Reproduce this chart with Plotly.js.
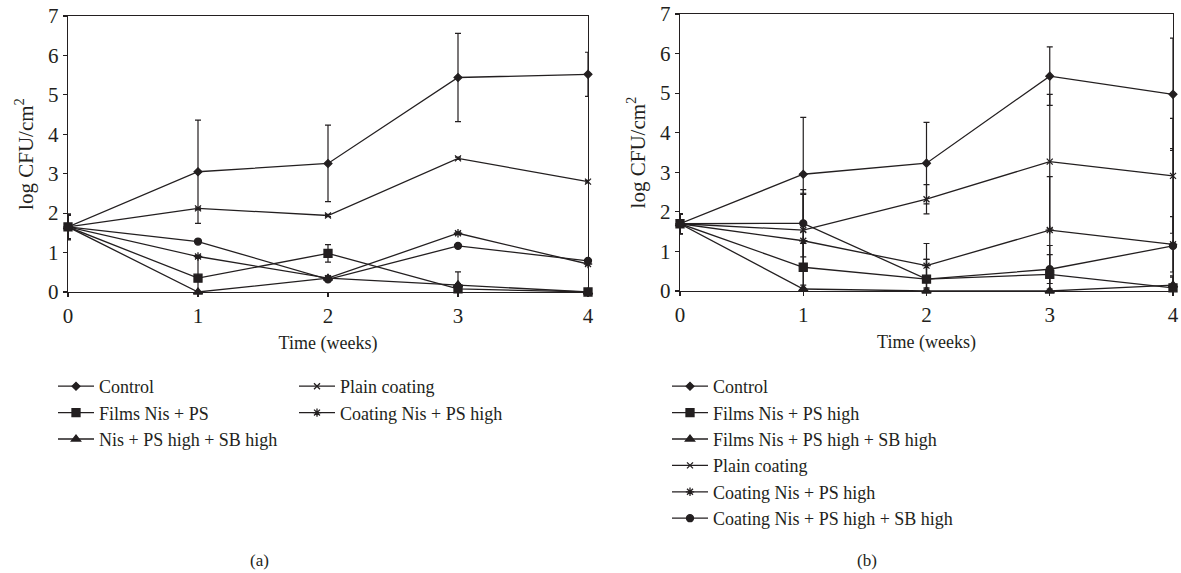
<!DOCTYPE html>
<html>
<head>
<meta charset="utf-8">
<script src="https://cdn.plot.ly/plotly-3.0.1.min.js"></script>
<style>html,body{margin:0;padding:0;background:#fff;}</style>
</head>
<body>
<div id="chart" style="width:1181px;height:573px;"></div>
<script>
// ---- Data ----
const weeks = [0, 1, 2, 3, 4];
const tickLabels = ['0', '1', '2', '3', '4'];

// Panel (a)
const aNames = ['Control', 'Films Nis + PS', 'Nis + PS high + SB high', 'Plain coating', 'Coating Nis + PS high', 'Coating Nis + PS high + SB high'];
const aControl = [1.65, 3.05, 3.26, 5.44, 5.52];
const aControlErr = [0.33, 1.31, 0.97, 1.12, 0.56];
const aFilms = [1.65, 0.35, 0.98, 0.08, 0.0];
const aFilmsErr = [0.3, 0.55, 0.22, 0.43, 0.0];
const aFilmsSB = [1.65, 0.0, 0.35, 0.18, 0.0];
const aFilmsSBErr = [0.3, 0.0, 0.05, 0.03, 0.0];
const aPlain = [1.65, 2.12, 1.94, 3.39, 2.8];
const aPlainErr = [0.3, 0.03, 0.03, 0.03, 0.03];
const aCoatPS = [1.65, 0.9, 0.35, 1.49, 0.71];
const aCoatPSErr = [0.3, 0.03, 0.05, 0.03, 0.03];
const aCoatSB = [1.65, 1.28, 0.32, 1.17, 0.79];
const aCoatSBErr = [0.3, 0.03, 0.05, 0.03, 0.03];

// Panel (b)
const bNames = ['Control', 'Films Nis + PS high', 'Films Nis + PS high + SB high', 'Plain coating', 'Coating Nis + PS high', 'Coating Nis + PS high + SB high'];
const bControl = [1.7, 2.95, 3.23, 5.43, 4.97];
const bControlErr = [0.25, 1.44, 1.03, 0.74, 1.42];
const bFilms = [1.7, 0.6, 0.3, 0.42, 0.08];
const bFilmsErr = [0.25, 0.6, 0.5, 0.5, 0.3];
const bFilmsSB = [1.7, 0.05, 0.0, 0.0, 0.15];
const bFilmsSBErr = [0.25, 0.1, 0.05, 0.05, 0.2];
const bPlain = [1.7, 1.54, 2.32, 3.27, 2.91];
const bPlainErr = [0.25, 0.9, 0.37, 1.7, 1.45];
const bCoatPS = [1.7, 1.27, 0.64, 1.54, 1.18];
const bCoatPSErr = [0.25, 1.2, 0.56, 1.35, 0.7];
const bCoatSB = [1.7, 1.71, 0.3, 0.55, 1.14];
const bCoatSBErr = [0.25, 0.85, 0.5, 0.6, 2.46];

// ---- Styling ----
const INK = '#231f20';
const FONT = 'Liberation Serif, Times New Roman, serif';
const W = 1181, H = 573;

function mk(name, x, y, err, symbol, size, xa, ya, legend, showlegend) {
  return {
    type: 'scatter', mode: 'lines+markers', name: name,
    x: x, y: y, xaxis: xa, yaxis: ya, legend: legend,
    showlegend: showlegend, cliponaxis: false,
    line: {color: INK, width: 1.3},
    marker: {symbol: symbol, size: size, color: INK, line: {color: INK, width: 1.3}},
    error_y: {type: 'data', symmetric: false, array: err,
              arrayminus: err.map((e, i) => Math.min(e, y[i])),
              color: INK, thickness: 1.2, width: 3}
  };
}

const traces = [
  mk(aNames[0], weeks, aControl, aControlErr, 'diamond', 6, 'x', 'y', 'legend', true),
  mk(aNames[1], weeks, aFilms, aFilmsErr, 'square', 8, 'x', 'y', 'legend', true),
  mk(aNames[2], weeks, aFilmsSB, aFilmsSBErr, 'triangle-up', 8, 'x', 'y', 'legend', true),
  mk(aNames[3], weeks, aPlain, aPlainErr, 'x-thin-open', 6, 'x', 'y', 'legend3', true),
  mk(aNames[4], weeks, aCoatPS, aCoatPSErr, 'asterisk-open', 7, 'x', 'y', 'legend3', true),
  mk(aNames[5], weeks, aCoatSB, aCoatSBErr, 'circle', 7, 'x', 'y', 'legend3', false),

  mk(bNames[0], weeks, bControl, bControlErr, 'diamond', 6, 'x2', 'y2', 'legend2', true),
  mk(bNames[1], weeks, bFilms, bFilmsErr, 'square', 8, 'x2', 'y2', 'legend2', true),
  mk(bNames[2], weeks, bFilmsSB, bFilmsSBErr, 'triangle-up', 8, 'x2', 'y2', 'legend2', true),
  mk(bNames[3], weeks, bPlain, bPlainErr, 'x-thin-open', 6, 'x2', 'y2', 'legend2', true),
  mk(bNames[4], weeks, bCoatPS, bCoatPSErr, 'asterisk-open', 7, 'x2', 'y2', 'legend2', true),
  mk(bNames[5], weeks, bCoatSB, bCoatSBErr, 'circle', 7, 'x2', 'y2', 'legend2', true)
];

function xax(domain, anchor) {
  return {
    domain: domain, anchor: anchor, range: [0, 4], tickvals: weeks, ticktext: tickLabels,
    ticks: 'outside', ticklen: 4, tickwidth: 1.2, tickcolor: INK,
    showline: true, mirror: true, linecolor: INK, linewidth: 1.3,
    showgrid: false, zeroline: false, automargin: false, fixedrange: true,
    tickfont: {family: FONT, size: 21, color: INK},
    title: {text: 'Time (weeks)', font: {family: FONT, size: 18, color: INK}, standoff: 10}
  };
}
function yax(domain, anchor) {
  return {
    domain: domain, anchor: anchor, range: [0, 7], dtick: 1, tick0: 0,
    ticks: 'outside', ticklen: 4, tickwidth: 1.2, tickcolor: INK,
    showline: true, mirror: true, linecolor: INK, linewidth: 1.3,
    showgrid: false, zeroline: false, automargin: false, fixedrange: true,
    tickfont: {family: FONT, size: 21, color: INK},
    title: {text: 'log CFU/cm<sup>2</sup>', font: {family: FONT, size: 21, color: INK}, standoff: 8}
  };
}
function leg(xpx, ytop) {
  return {x: xpx / W, y: 1 - ytop / H, xanchor: 'left', yanchor: 'top',
          orientation: 'v', bgcolor: 'rgba(0,0,0,0)', borderwidth: 0,
          tracegroupgap: 0, itemwidth: 36, itemclick: false, itemdoubleclick: false,
          font: {family: FONT, size: 18, color: INK}};
}

const layout = {
  width: W, height: H,
  margin: {l: 0, r: 0, t: 0, b: 0},
  paper_bgcolor: '#ffffff', plot_bgcolor: '#ffffff',
  font: {family: FONT, size: 18, color: INK},
  xaxis: xax([68 / W, 588 / W], 'y'),
  yaxis: yax([(H - 292) / H, (H - 16) / H], 'x'),
  xaxis2: xax([680 / W, 1173 / W], 'y2'),
  yaxis2: yax([(H - 291) / H, (H - 14) / H], 'x2'),
  legend: leg(53, 368),
  legend3: leg(294, 368),
  legend2: leg(667, 368),
  annotations: [
    {text: '(a)', x: 259 / W, y: 1 - 560 / H, xref: 'paper', yref: 'paper', showarrow: false,
     xanchor: 'center', yanchor: 'middle', font: {family: FONT, size: 17, color: INK}},
    {text: '(b)', x: 867 / W, y: 1 - 560 / H, xref: 'paper', yref: 'paper', showarrow: false,
     xanchor: 'center', yanchor: 'middle', font: {family: FONT, size: 17, color: INK}}
  ]
};

Plotly.newPlot('chart', traces, layout, {displayModeBar: false, staticPlot: true});
</script>
</body>
</html>
